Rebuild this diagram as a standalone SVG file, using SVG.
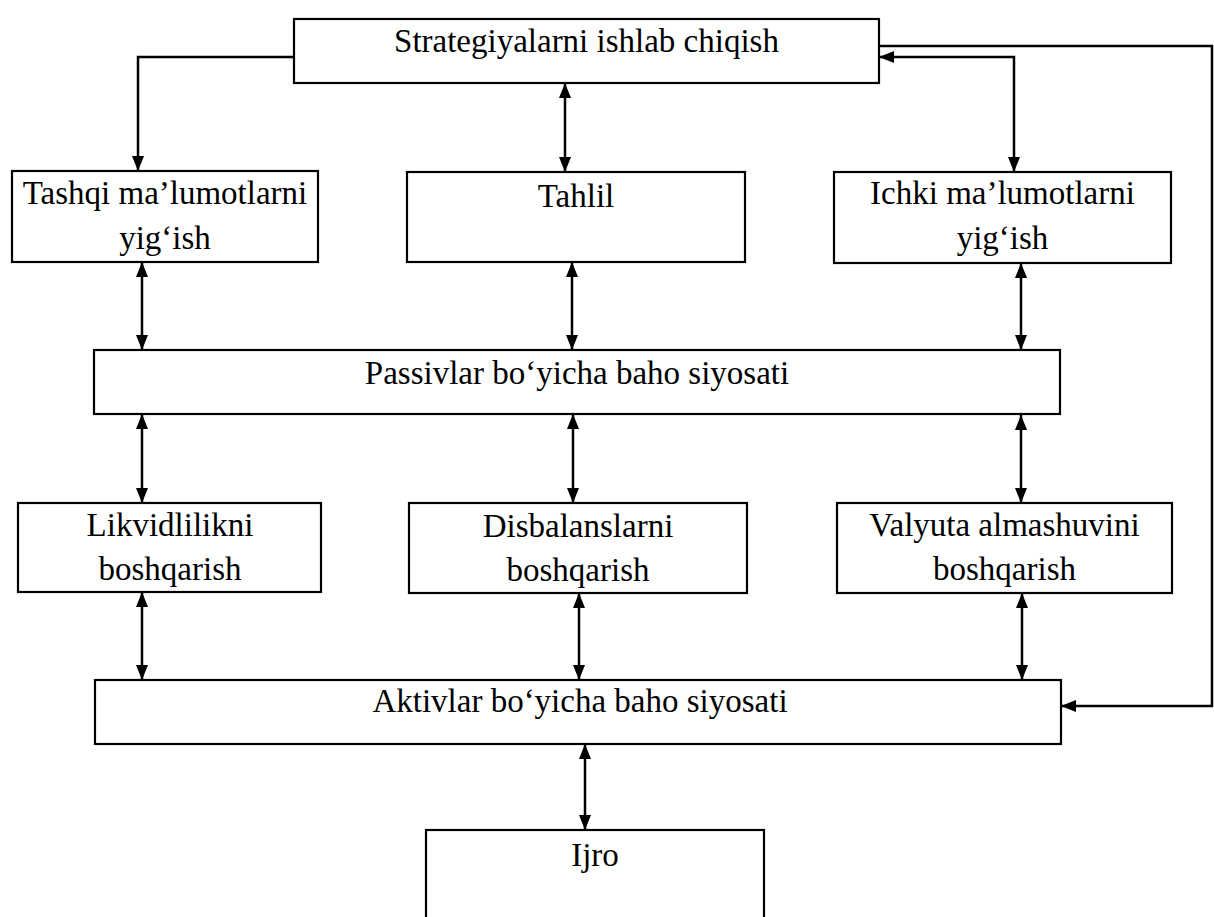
<svg xmlns="http://www.w3.org/2000/svg" width="1214" height="917" viewBox="0 0 1214 917">
  <style>
    .box { fill: #ffffff; stroke: #000000; stroke-width: 2.2; }
    .lbl { font-family: "Liberation Serif", "Times New Roman", serif; font-size: 33px; fill: #000000; text-anchor: middle; }
    .wire { fill: none; stroke: #000000; stroke-width: 2.5; }
  </style>
  <defs>
    <marker id="head" viewBox="0 0 15 12" refX="15" refY="6" markerWidth="15" markerHeight="12" markerUnits="userSpaceOnUse" orient="auto-start-reverse">
      <path d="M0,0 L15,6 L0,12 z" fill="#000000"/>
    </marker>
  </defs>
  <rect width="1214" height="917" fill="#ffffff"/>

  <g id="connectors">
    <!-- strategy box to external data -->
    <path class="wire" d="M294,57 H138 V171" marker-end="url(#head)"/>
    <!-- strategy box and analysis -->
    <path class="wire" d="M565,83 V172" marker-start="url(#head)" marker-end="url(#head)"/>
    <!-- strategy box and internal data -->
    <path class="wire" d="M879,57 H1014 V172" marker-start="url(#head)" marker-end="url(#head)"/>
    <!-- feedback loop along the right edge into asset pricing -->
    <path class="wire" d="M879,46 H1212 V706 H1061" marker-end="url(#head)"/>
    <!-- data / analysis to liability pricing -->
    <path class="wire" d="M142,262 V350" marker-start="url(#head)" marker-end="url(#head)"/>
    <path class="wire" d="M572,262 V350" marker-start="url(#head)" marker-end="url(#head)"/>
    <path class="wire" d="M1021,263 V350" marker-start="url(#head)" marker-end="url(#head)"/>
    <!-- liability pricing to management blocks -->
    <path class="wire" d="M142,414 V503" marker-start="url(#head)" marker-end="url(#head)"/>
    <path class="wire" d="M573,414 V503" marker-start="url(#head)" marker-end="url(#head)"/>
    <path class="wire" d="M1021,415 V503" marker-start="url(#head)" marker-end="url(#head)"/>
    <!-- management blocks to asset pricing -->
    <path class="wire" d="M142,592 V680" marker-start="url(#head)" marker-end="url(#head)"/>
    <path class="wire" d="M579,593 V680" marker-start="url(#head)" marker-end="url(#head)"/>
    <path class="wire" d="M1022,593 V680" marker-start="url(#head)" marker-end="url(#head)"/>
    <!-- asset pricing to execution -->
    <path class="wire" d="M585,744 V830" marker-start="url(#head)" marker-end="url(#head)"/>
  </g>

  <g id="strategiya">
    <rect class="box" x="294" y="19" width="585" height="64"/>
    <text class="lbl" x="586.5" y="52">Strategiyalarni ishlab chiqish</text>
  </g>

  <g id="tashqi">
    <rect class="box" x="12" y="171" width="306" height="91"/>
    <text class="lbl" x="165" y="204">Tashqi ma’lumotlarni</text>
    <text class="lbl" x="165" y="249">yig‘ish</text>
  </g>

  <g id="tahlil">
    <rect class="box" x="407" y="172" width="338" height="90"/>
    <text class="lbl" x="576" y="207">Tahlil</text>
  </g>

  <g id="ichki">
    <rect class="box" x="834" y="172" width="337" height="91"/>
    <text class="lbl" x="1002.5" y="204">Ichki ma’lumotlarni</text>
    <text class="lbl" x="1002.5" y="249">yig‘ish</text>
  </g>

  <g id="passivlar">
    <rect class="box" x="94" y="350" width="966" height="64"/>
    <text class="lbl" x="577" y="384">Passivlar bo‘yicha baho siyosati</text>
  </g>

  <g id="likvidlilik">
    <rect class="box" x="18" y="503" width="303" height="89"/>
    <text class="lbl" x="170" y="536">Likvidlilikni</text>
    <text class="lbl" x="170" y="580">boshqarish</text>
  </g>

  <g id="disbalans">
    <rect class="box" x="409" y="503" width="338" height="90"/>
    <text class="lbl" x="578" y="537">Disbalanslarni</text>
    <text class="lbl" x="578" y="581">boshqarish</text>
  </g>

  <g id="valyuta">
    <rect class="box" x="837" y="503" width="335" height="90"/>
    <text class="lbl" x="1004.5" y="536">Valyuta almashuvini</text>
    <text class="lbl" x="1004.5" y="580">boshqarish</text>
  </g>

  <g id="aktivlar">
    <rect class="box" x="95" y="680" width="966" height="64"/>
    <text class="lbl" x="580" y="712">Aktivlar bo‘yicha baho siyosati</text>
  </g>

  <g id="ijro">
    <rect class="box" x="426" y="830" width="338" height="110"/>
    <text class="lbl" x="595" y="866">Ijro</text>
  </g>
</svg>
